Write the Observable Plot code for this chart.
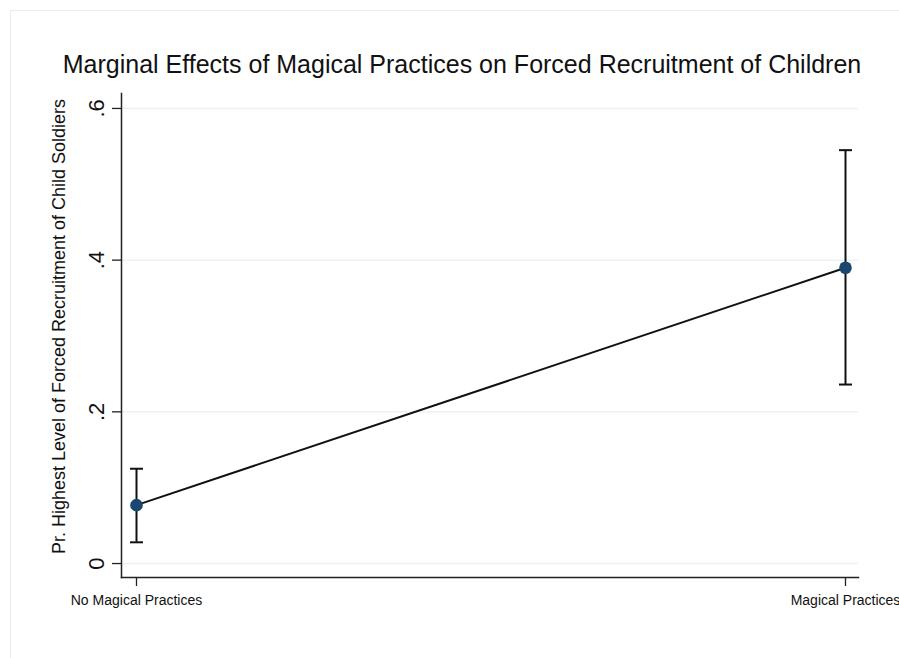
<!DOCTYPE html>
<html><head><meta charset="utf-8">
<script src="https://cdn.jsdelivr.net/npm/d3@7"></script>
<script src="https://cdn.jsdelivr.net/npm/@observablehq/plot@0.6"></script>
<style>
body{margin:0;background:#fff;}
#wrap{position:relative;width:899px;height:658px;overflow:hidden;background:#fff;}
#border{position:absolute;left:10px;top:10px;width:1000px;height:1000px;border:1px solid #e6eef0;box-sizing:border-box;}
#chart{position:absolute;left:0;top:0;}
</style></head>
<body><div id="wrap"><div id="border"></div><div id="chart"></div></div>
<script>
const categories = ["No Magical Practices", "Magical Practices"];
const margins = [0.077, 0.390];
const ciLow = [0.028, 0.236];
const ciHigh = [0.125, 0.545];
const yTicks = [0, 0.2, 0.4, 0.6];
const yTickLabels = ["0", ".2", ".4", ".6"];
const titleText = "Marginal Effects of Magical Practices on Forced Recruitment of Children";
const yLabel = "Pr. Highest Level of Forced Recruitment of Child Soldiers";

const data = categories.map((c, i) => ({cat: c, m: margins[i], lo: ciLow[i], hi: ciHigh[i]}));
const capSymbol = {draw(ctx, size) { const w = Math.sqrt(size / Math.PI); ctx.moveTo(-w, 0); ctx.lineTo(w, 0); }};
const font = "Liberation Sans, Arial, Helvetica, sans-serif";

const plot = Plot.plot({
  width: 899, height: 658,
  marginLeft: 121, marginRight: 41, marginTop: 93, marginBottom: 81,
  style: {fontFamily: font, background: "transparent", overflow: "visible"},
  x: {type: "point", domain: categories, padding: 0, insetLeft: 15, insetRight: 13, label: null},
  y: {domain: [-0.0184, 0.6197], label: null},
  marks: [
    Plot.gridY(yTicks, {stroke: "#eaf2f3", strokeOpacity: 1, strokeWidth: 1.5}),
    Plot.frame({anchor: "left", stroke: "#222", strokeWidth: 1.5}),
    Plot.frame({anchor: "bottom", stroke: "#222", strokeWidth: 1.5}),
    Plot.axisY({ticks: yTicks, tickSize: 9, tickFormat: () => "", stroke: "#222", strokeWidth: 1.3}),
    Plot.text(yTicks, {y: d => d, text: (d, i) => yTickLabels[i], frameAnchor: "left", dx: -18, rotate: -90,
      textAnchor: "middle", lineAnchor: "bottom", fontSize: 22, fill: "#111"}),
    Plot.axisX({tickSize: 9, tickPadding: 9, fontSize: 14, stroke: "#222", strokeWidth: 1.3, fill: "#111"}),
    Plot.text([yLabel], {frameAnchor: "left", dx: -62, dy: -9, rotate: -90, textAnchor: "middle",
      fontSize: 18, fill: "#111"}),
    Plot.text([titleText], {frameAnchor: "top", dy: -21, dx: -28, fontSize: 25, fill: "#111", lineAnchor: "bottom"}),
    Plot.ruleX(data, {x: "cat", y1: "lo", y2: "hi", stroke: "#111", strokeWidth: 2}),
    Plot.dot(data, {x: "cat", y: "lo", symbol: capSymbol, r: 6.5, stroke: "#111", strokeWidth: 2}),
    Plot.dot(data, {x: "cat", y: "hi", symbol: capSymbol, r: 6.5, stroke: "#111", strokeWidth: 2}),
    Plot.line(data, {x: "cat", y: "m", stroke: "#111", strokeWidth: 2}),
    Plot.dot(data, {x: "cat", y: "m", r: 6.3, fill: "#1a476f", stroke: "none"})
  ]
});
document.getElementById("chart").appendChild(plot);
</script></body></html>
